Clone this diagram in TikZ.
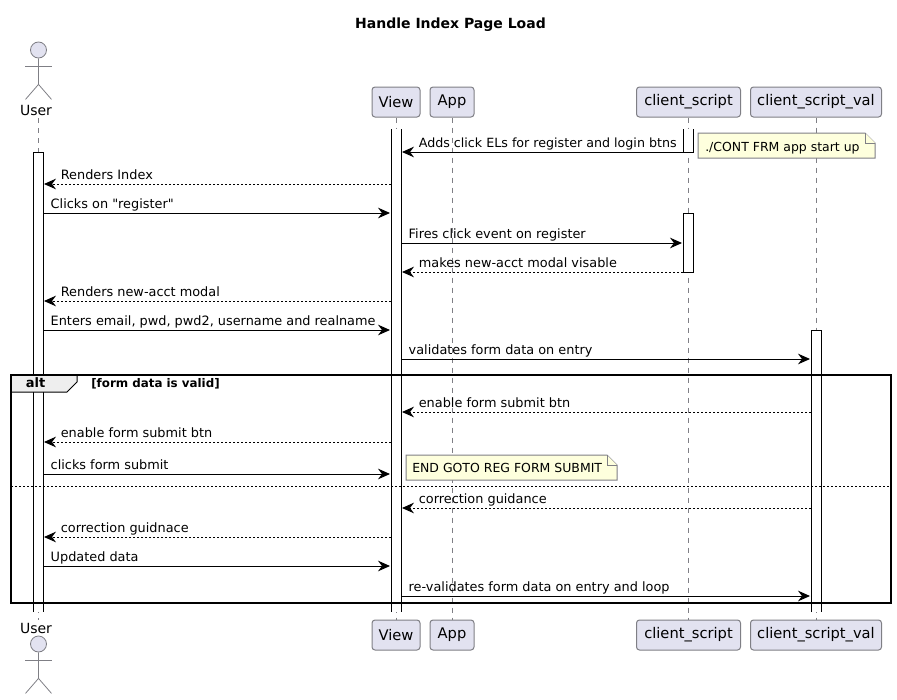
\documentclass[tikz,border=0pt]{standalone}
\usepackage{fontspec}
\setmainfont{DejaVu Sans}
\newfontfamily\quotefont{DejaVu Sans}
\usetikzlibrary{arrows.meta}
\definecolor{partfill}{HTML}{E2E2F0}
\definecolor{partline}{HTML}{7F7F85}
\definecolor{notefill}{HTML}{FEFFDD}
\definecolor{tabfill}{HTML}{EEEEEE}
\tikzset{
  part/.style={draw=partline,fill=partfill,rounded corners=2.25pt,line width=0.75pt,inner sep=0pt,minimum height=22.5pt,font=\fontsize{11}{13}\selectfont},
  actorname/.style={inner sep=0pt,font=\fontsize{10.5}{12}\selectfont},
  actorhead/.style={circle,draw=partline,fill=partfill,line width=0.6pt,inner sep=0pt,minimum size=12pt},
  actorline/.style={draw=partline,line width=0.6pt},
  lifeline/.style={draw=partline,line width=0.6pt,dash pattern=on 3.75pt off 3.75pt},
  bar/.style={fill=white,inner sep=0pt,outer sep=0pt,minimum width=7.5pt,minimum height=#1*0.75pt},
  barline/.style={line width=0.75pt},
  msg/.style={-{Stealth[length=9pt,width=8pt,inset=3pt]},line width=0.75pt,shorten >=0.75pt},
  msgret/.style={msg,dash pattern=on 1.5pt off 1.5pt},
  lblright/.style={at start,anchor=base west,inner sep=0pt,xshift=5.4pt,yshift=3.1pt},
  lblleft/.style={at end,anchor=base west,inner sep=0pt,xshift=13pt,yshift=3.1pt},
  note/.style={draw=partline,fill=notefill,line width=0.75pt},
  txt/.style={inner sep=0pt,font=\fontsize{9.35}{12}\selectfont},
}
\begin{document}
\begin{tikzpicture}[x=0.75pt,y=-0.75pt,font=\fontsize{9.65}{12}\selectfont]
  \useasboundingbox (0,0) rectangle (897,700);
  \node[inner sep=0pt,font=\fontsize{10.5}{12}\selectfont\bfseries] (title) at (450.5,24.5) {Handle Index Page Load};
  % participants
  \node[part,minimum width=36pt] (viewTop) at (396,102) {View};
  \node[part,minimum width=33pt] (appTop) at (452,102) {App};
  \node[part,minimum width=78pt] (scriptTop) at (688.5,102) {client\_script};
  \node[part,minimum width=98.25pt] (valTop) at (816,102) {client\_script\_val};
  \node[part,minimum width=36pt] (viewBot) at (396,635) {View};
  \node[part,minimum width=33pt] (appBot) at (452,635) {App};
  \node[part,minimum width=78pt] (scriptBot) at (688.5,635) {client\_script};
  \node[part,minimum width=98.25pt] (valBot) at (816,635) {client\_script\_val};
  % actor, top and bottom
  \node[actorname] (userTop) at (36,110) {User};
  \node[actorname] (userBot) at (36,628) {User};
  \node[actorhead] (headTop) at (38.5,50) {};
  \draw[actorline] (headTop.south) -- ++(0,26) -- ++(-13,15);
  \draw[actorline] (headTop.south) ++(0,26) -- ++(13,15);
  \draw[actorline] (25,66) -- (52,66);
  \node[actorhead] (headBot) at (38.5,644) {};
  \draw[actorline] (headBot.south) -- ++(0,26) -- ++(-13,15);
  \draw[actorline] (headBot.south) ++(0,26) -- ++(13,15);
  \draw[actorline] (25,660) -- (52,660);
  % lifelines
  \coordinate (userA) at (38.5,118);
  \coordinate (userB) at (38.5,620);
  \draw[lifeline] (userA) -- (userB);
  \draw[lifeline] (viewTop.south) -- (viewBot.north);
  \draw[lifeline] (appTop.south) -- (appBot.north);
  \draw[lifeline] (scriptTop.south) -- (scriptBot.north);
  \draw[lifeline] (valTop.south) -- (valBot.north);
  % activation bars
  \node[bar=460] (barUser) at (38,382) {};
  \draw[barline] (barUser.south west) -- (barUser.north west) -- (barUser.north east) -- (barUser.south east);
  \node[bar=483] (barView) at (396,370.5) {};
  \draw[barline] (barView.north west) -- (barView.south west);
  \draw[barline] (barView.north east) -- (barView.south east);
  \node[bar=23] (barScriptA) at (688,140.5) {};
  \draw[barline] (barScriptA.north west) -- (barScriptA.south west) -- (barScriptA.south east) -- (barScriptA.north east);
  \node[bar=59] (barScriptB) at (688,242.5) {};
  \draw[barline] (barScriptB.north west) rectangle (barScriptB.south east);
  \node[bar=282] (barVal) at (816,471) {};
  \draw[barline] (barVal.south west) -- (barVal.north west) -- (barVal.north east) -- (barVal.south east);
  % message rows
  \coordinate (row1) at (0,152);
  \coordinate (row2) at (0,184);
  \coordinate (row3) at (0,213);
  \coordinate (row4) at (0,243);
  \coordinate (row5) at (0,272);
  \coordinate (row6) at (0,301);
  \coordinate (row7) at (0,330);
  \coordinate (row8) at (0,359);
  \coordinate (row9) at (0,412);
  \coordinate (row10) at (0,442);
  \coordinate (row11) at (0,474);
  \coordinate (row12) at (0,508);
  \coordinate (row13) at (0,537);
  \coordinate (row14) at (0,566);
  \coordinate (row15) at (0,596);
  \draw[msg] (barScriptA.west |- row1) -- node[lblleft,font=\fontsize{9.5}{12}\selectfont] (m1) {Adds click ELs for register and login btns} (barView.east |- row1);
  \draw[msgret] (barView.west |- row2) -- node[lblleft] (m2) {Renders Index} (barUser.east |- row2);
  \draw[msg] (barUser.east |- row3) -- node[lblright] (m3) {\quotefont Clicks on "register"} (barView.west |- row3);
  \draw[msg] (barView.east |- row4) -- node[lblright] (m4) {Fires click event on register} (barScriptB.west |- row4);
  \draw[msgret] (barScriptB.west |- row5) -- node[lblleft] (m5) {makes new-acct modal visable} (barView.east |- row5);
  \draw[msgret] (barView.west |- row6) -- node[lblleft] (m6) {Renders new-acct modal} (barUser.east |- row6);
  \draw[msg] (barUser.east |- row7) -- node[lblright] (m7) {Enters email, pwd, pwd2, username and realname} (barView.west |- row7);
  \draw[msg] (barView.east |- row8) -- node[lblright] (m8) {validates form data on entry} (barVal.west |- row8);
  \draw[msgret] (barVal.west |- row9) -- node[lblleft] (m9) {enable form submit btn} (barView.east |- row9);
  \draw[msgret] (barView.west |- row10) -- node[lblleft] (m10) {enable form submit btn} (barUser.east |- row10);
  \draw[msg] (barUser.east |- row11) -- node[lblright] (m11) {clicks form submit} (barView.west |- row11);
  \draw[msgret] (barVal.west |- row12) -- node[lblleft] (m12) {correction guidance} (barView.east |- row12);
  \draw[msgret] (barView.west |- row13) -- node[lblleft] (m13) {correction guidnace} (barUser.east |- row13);
  \draw[msg] (barUser.east |- row14) -- node[lblright] (m14) {Updated data} (barView.west |- row14);
  \draw[msg] (barView.east |- row15) -- node[lblright] (m15) {re-validates form data on entry and loop} (barVal.west |- row15);
  % notes
  \draw[note] (698,133) -- (865,133) -- (875,143) -- (875,158) -- (698,158) -- cycle;
  \draw[note] (865,133) -- (865,143) -- (875,143);
  \node[txt,anchor=base west] (noteStart) at (705,151.5) {./CONT FRM app start up};
  \draw[note] (406,455) -- (607,455) -- (617,465) -- (617,480) -- (406,480) -- cycle;
  \draw[note] (607,455) -- (607,465) -- (617,465);
  \node[txt,anchor=base west] (noteEnd) at (412,472.5) {END GOTO REG FORM SUBMIT};
  % alt frame
  \draw[fill=tabfill,line width=0.75pt] (11,375) -- (77,375) -- (77,382) -- (67,392) -- (11,392) -- cycle;
  \draw[line width=1.5pt] (11,375) rectangle (891,603);
  \node[inner sep=0pt,font=\fontsize{9.75}{12}\selectfont\bfseries] (altTag) at (35.5,383) {alt};
  \node[inner sep=0pt,anchor=base west,font=\fontsize{8.9}{10}\selectfont\bfseries] (altGuard) at (91,387) {[form data is valid]};
  \coordinate (sepA) at (11,486);
  \coordinate (sepB) at (891,486);
  \draw[line width=0.75pt,dash pattern=on 1.5pt off 1.5pt] (sepA) -- (sepB);
\end{tikzpicture}
\end{document}
